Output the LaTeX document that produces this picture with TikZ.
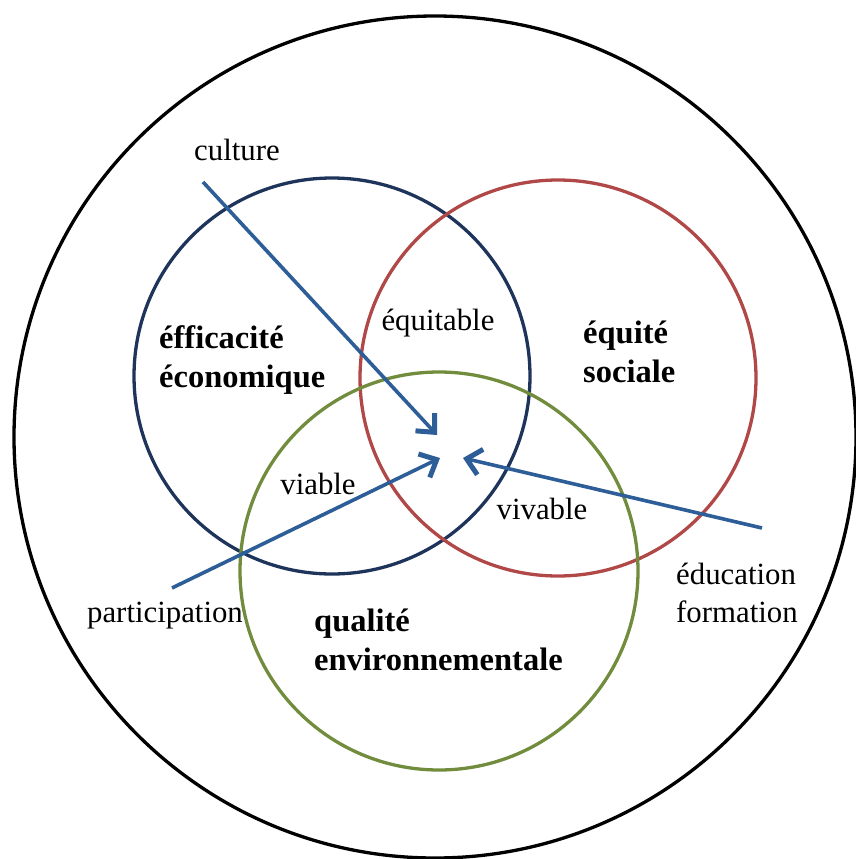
\documentclass[tikz,border=0pt]{standalone}
\usepackage{fontspec}
\setmainfont{Liberation Serif}
\usetikzlibrary{arrows.meta}
\definecolor{navyc}{RGB}{30,52,90}
\definecolor{redc}{RGB}{176,72,72}
\definecolor{greenc}{RGB}{112,140,60}
\definecolor{arrc}{RGB}{46,94,152}
\tikzset{
  ring/.style={line width=3.3pt},
  lbl/.style={inner sep=0pt, font=\fontsize{30.8}{38}\selectfont, align=left},
  blbl/.style={lbl, font=\fontsize{32.5}{39}\selectfont\bfseries},
  arr/.style={line width=3.6pt, color=arrc, -{Straight Barb[length=14pt,width=26pt,line width=5pt]}},
}
\begin{document}
\begin{tikzpicture}[x=1pt,y=-1pt]
\useasboundingbox (0,0) rectangle (855,859);
\draw[ring, black] (435,437) circle (421);
\draw[ring, navyc] (332,376) circle (198);
\draw[ring, redc] (558,378) circle (198);
\draw[ring, greenc] (439,571) circle (199);

\node[lbl] (culture) at (237,150) {culture};
\node[blbl, anchor=west] (eco) at (159,360) {éfficacité\\économique};
\node[blbl, anchor=west] (soc) at (583,352) {équité\\sociale};
\node[blbl, anchor=west] (env) at (314,640) {qualité\\environnementale};
\node[lbl] (equit) at (438,323) {équitable};
\node[lbl] (viable) at (318,484) {viable};
\node[lbl] (vivable) at (542,509) {vivable};
\node[lbl] (part) at (165,616) {participation};
\node[lbl, anchor=west] (edu) at (676,593) {éducation\\formation};

\coordinate (c1) at (203,182);
\coordinate (t1) at (437,435);
\coordinate (c2) at (172,588);
\coordinate (t2) at (440,458);
\coordinate (c3) at (762,528);
\coordinate (t3) at (463,458);
\draw[arr] (c1) -- (t1);
\draw[arr] (c2) -- (t2);
\draw[arr] (c3) -- (t3);
\end{tikzpicture}
\end{document}
